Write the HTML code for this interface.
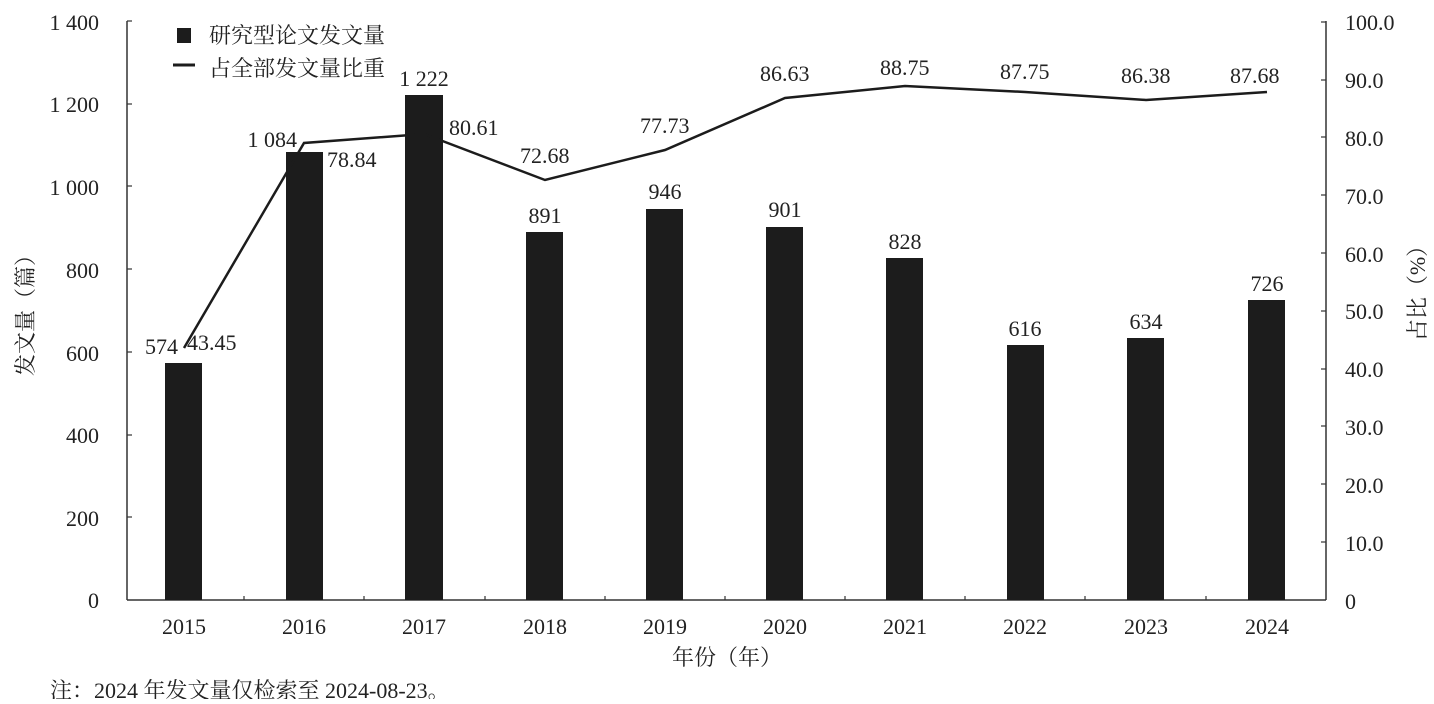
<!DOCTYPE html>
<html><head><meta charset="utf-8"><style>
body{margin:0;background:#fff}
svg text{font-family:"Liberation Serif","Noto Serif CJK SC",serif;fill:#222}
</style></head><body>
<svg width="1434" height="699" viewBox="0 0 1434 699" xmlns="http://www.w3.org/2000/svg">
<g stroke="#333" stroke-width="1.5" fill="none">
<line x1="127" y1="21" x2="127" y2="600"/>
<line x1="1326" y1="21" x2="1326" y2="600"/>
<line x1="127" y1="600" x2="1326" y2="600"/>
</g>
<g stroke="#333" stroke-width="1.2">
<line x1="127" y1="21" x2="132" y2="21"/><line x1="127" y1="104" x2="132" y2="104"/><line x1="127" y1="186" x2="132" y2="186"/><line x1="127" y1="269" x2="132" y2="269"/><line x1="127" y1="352" x2="132" y2="352"/><line x1="127" y1="435" x2="132" y2="435"/><line x1="127" y1="517" x2="132" y2="517"/>
<line x1="1321" y1="22" x2="1326" y2="22"/><line x1="1321" y1="80" x2="1326" y2="80"/><line x1="1321" y1="137" x2="1326" y2="137"/><line x1="1321" y1="195" x2="1326" y2="195"/><line x1="1321" y1="253" x2="1326" y2="253"/><line x1="1321" y1="311" x2="1326" y2="311"/><line x1="1321" y1="369" x2="1326" y2="369"/><line x1="1321" y1="426" x2="1326" y2="426"/><line x1="1321" y1="484" x2="1326" y2="484"/><line x1="1321" y1="542" x2="1326" y2="542"/>
<line x1="244" y1="596" x2="244" y2="600"/><line x1="364" y1="596" x2="364" y2="600"/><line x1="485" y1="596" x2="485" y2="600"/><line x1="605" y1="596" x2="605" y2="600"/><line x1="725" y1="596" x2="725" y2="600"/><line x1="845" y1="596" x2="845" y2="600"/><line x1="965" y1="596" x2="965" y2="600"/><line x1="1085" y1="596" x2="1085" y2="600"/><line x1="1206" y1="596" x2="1206" y2="600"/>
</g>
<g font-size="22" text-anchor="end">
<text x="99" y="30">1 400</text><text x="99" y="112">1 200</text><text x="99" y="195">1 000</text><text x="99" y="278">800</text><text x="99" y="361">600</text><text x="99" y="443">400</text><text x="99" y="526">200</text><text x="99" y="608">0</text>
</g>
<g font-size="22" text-anchor="start">
<text x="1345" y="30">100.0</text><text x="1345" y="88">90.0</text><text x="1345" y="146">80.0</text><text x="1345" y="204">70.0</text><text x="1345" y="262">60.0</text><text x="1345" y="319">50.0</text><text x="1345" y="377">40.0</text><text x="1345" y="435">30.0</text><text x="1345" y="493">20.0</text><text x="1345" y="551">10.0</text><text x="1345" y="609">0</text>
</g>
<g fill="#1c1c1c">
<rect x="165" y="363" width="37" height="237"/>
<rect x="286" y="152" width="37" height="448"/>
<rect x="405" y="95" width="38" height="505"/>
<rect x="526" y="232" width="37" height="368"/>
<rect x="646" y="209" width="37" height="391"/>
<rect x="766" y="227" width="37" height="373"/>
<rect x="886" y="258" width="37" height="342"/>
<rect x="1007" y="345" width="37" height="255"/>
<rect x="1127" y="338" width="37" height="262"/>
<rect x="1248" y="300" width="37" height="300"/>
</g>
<polyline fill="none" stroke="#1c1c1c" stroke-width="2.5" points="184,348 304,143 424,134 545,180 665,150 785,98 905,86 1025,92 1146,100 1267,92"/>
<g font-size="22" text-anchor="middle">
<text x="424" y="86">1 222</text><text x="545" y="223">891</text><text x="665" y="199">946</text><text x="785" y="217">901</text><text x="905" y="249">828</text><text x="1025" y="336">616</text><text x="1146" y="329">634</text><text x="1267" y="291">726</text>
</g>
<g font-size="22" text-anchor="end">
<text x="178" y="354">574</text><text x="297" y="147">1 084</text>
</g>
<g font-size="22" text-anchor="start">
<text x="187" y="350">43.45</text><text x="327" y="167">78.84</text><text x="449" y="135">80.61</text><text x="520" y="163">72.68</text><text x="640" y="133">77.73</text><text x="760" y="81">86.63</text><text x="880" y="75">88.75</text><text x="1000" y="79">87.75</text><text x="1121" y="83">86.38</text><text x="1230" y="83">87.68</text>
</g>
<g font-size="22" text-anchor="middle">
<text x="184" y="634">2015</text><text x="304" y="634">2016</text><text x="424" y="634">2017</text><text x="545" y="634">2018</text><text x="665" y="634">2019</text><text x="785" y="634">2020</text><text x="905" y="634">2021</text><text x="1025" y="634">2022</text><text x="1146" y="634">2023</text><text x="1267" y="634">2024</text>
<text x="727" y="665">年份（年）</text>
</g>
<rect x="177" y="28" width="14" height="15" fill="#1c1c1c"/>
<line x1="173" y1="65" x2="195" y2="65" stroke="#1c1c1c" stroke-width="3"/>
<text x="209" y="43" font-size="22">研究型论文发文量</text>
<text x="209" y="76" font-size="22">占全部发文量比重</text>
<text transform="translate(33,310) rotate(-90)" font-size="22" text-anchor="middle">发文量（篇）</text>
<text transform="translate(1425,288) rotate(-90)" font-size="22" text-anchor="middle">占比（%）</text>
<text x="50" y="698" font-size="22">注：2024 年发文量仅检索至 2024-08-23。</text>
</svg>
</body></html>
